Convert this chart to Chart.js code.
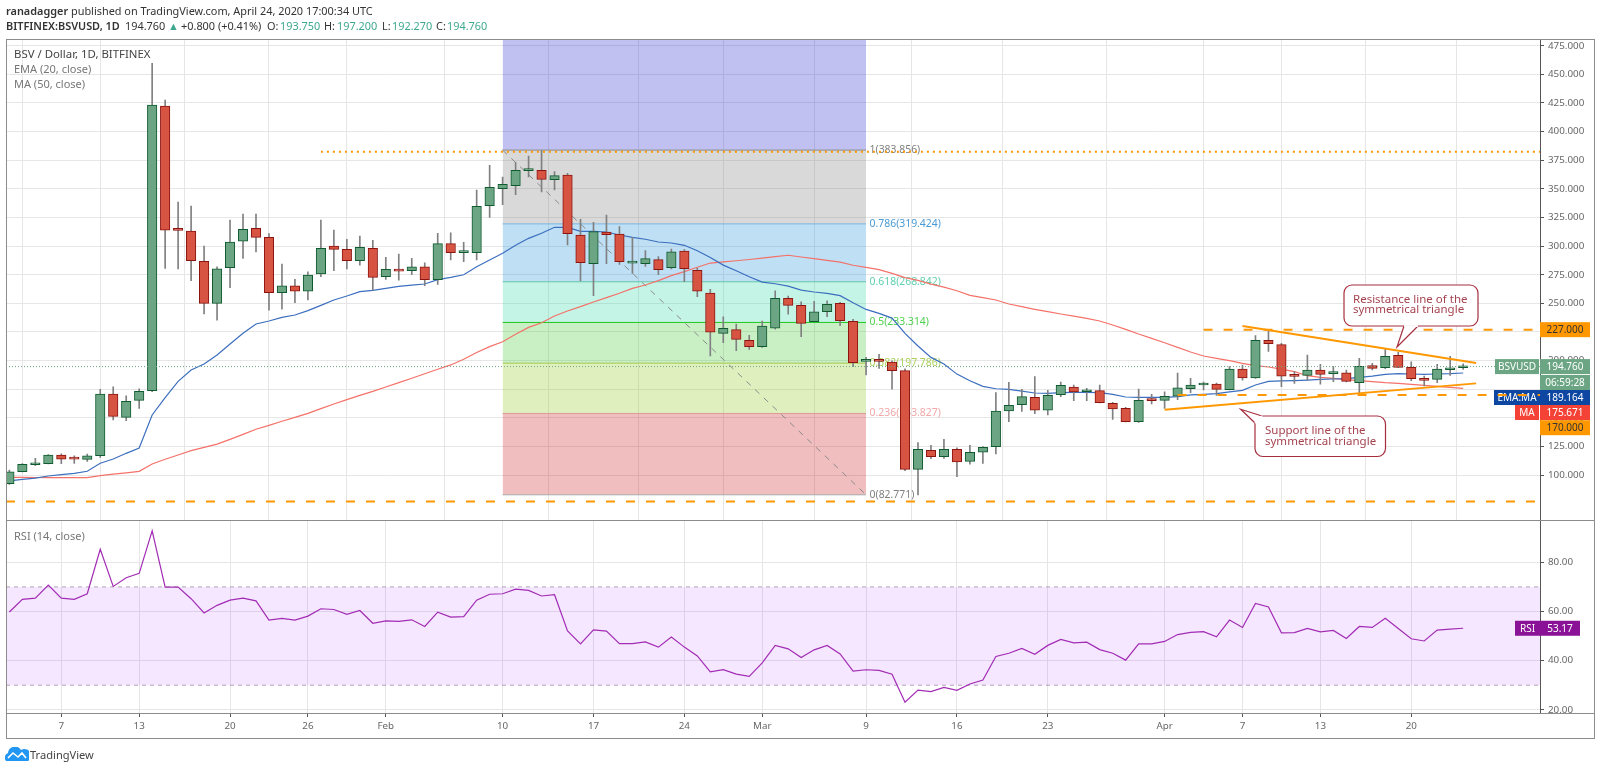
<!DOCTYPE html>
<html>
<head>
<meta charset="utf-8">
<title>BSV / Dollar</title>
<script src="https://cdn.jsdelivr.net/npm/chart.js@4"></script>
<style>
  body { margin: 0; background: #fff; font-family: "Noto Sans", sans-serif; overflow: hidden; }
  canvas { position: absolute; left: 0; top: 0; }
  .txt { position: absolute; white-space: nowrap; line-height: 16px; z-index: 5; color: #333; }
  .hd { font-size: 10.9px; top: 18px; }
  .pane { font-size: 11px; color: #777; }
  .teal { color: #3ea88f; }
  .frame { position: absolute; left: 6px; top: 39px; width: 1587px; height: 698px; border: 1px solid #8c8c8c; z-index: 4; }
  .sep { position: absolute; left: 6px; width: 1588px; height: 1px; background: #8c8c8c; z-index: 4; }
</style>
</head>
<body>
<div class="txt hd" style="left:6px;top:3px"><b style="font-weight:600">ranadagger</b> published on TradingView.com, April 24, 2020 17:00:34 UTC</div>
<div class="txt hd" style="left:6px"><b style="font-weight:600">BITFINEX:BSVUSD, 1D</b></div>
<div class="txt hd" style="left:125px">194.760</div>
<div class="txt hd teal" style="left:168px">▲</div>
<div class="txt hd" style="left:181px">+0.800 (+0.41%)</div>
<div class="txt hd" style="left:267px">O:</div>
<div class="txt hd teal" style="left:280px">193.750</div>
<div class="txt hd" style="left:324px">H:</div>
<div class="txt hd teal" style="left:337px">197.200</div>
<div class="txt hd" style="left:382px">L:</div>
<div class="txt hd teal" style="left:392px">192.270</div>
<div class="txt hd" style="left:436px">C:</div>
<div class="txt hd teal" style="left:447px">194.760</div>
<div class="txt pane" style="left:14px;top:46px;font-size:11.4px;color:#444">BSV / Dollar, 1D, BITFINEX</div>
<div class="txt pane" style="left:14px;top:61px">EMA (20, close)</div>
<div class="txt pane" style="left:14px;top:76px">MA (50, close)</div>
<div class="txt pane" style="left:14px;top:528px">RSI (14, close)</div>
<div class="frame"></div>
<div class="sep" style="top:520px"></div>
<div class="sep" style="top:713px"></div>
<div style="position:absolute;left:1541px;top:714px;width:52px;height:23px;background:#fff;z-index:3"></div>
<svg style="position:absolute;left:5px;top:747px" width="24" height="14" viewBox="0 0 24 14">
  <path d="M1 14a5 5 0 0 1 2-8 7 7 0 0 1 13-3 6 6 0 0 1 7 11z" fill="#2196f3"/>
  <path d="M3 11l5-5 5 4 4-4 4 5" fill="none" stroke="#fff" stroke-width="1.6"/>
</svg>
<div class="txt" style="left:30px;top:747px;font-size:11.1px;color:#444">TradingView</div>
<canvas id="priceChart" width="1600" height="763"></canvas>
<canvas id="rsiChart" width="1600" height="763"></canvas>
<script>
const opens = [92.4,102.9,109,109.9,117.5,114.1,113.7,116.9,170.8,150.4,165.3,173.7,422.3,315.5,313.1,286.7,250,281.1,304.4,315.5,307.6,259.3,265.4,260.7,275.6,300,297.2,287.2,298,273.2,279.2,278.6,281.8,270.7,302.1,294.3,294.3,335.3,350.2,352.8,365.9,366.2,358,362.1,309.7,284.7,312.3,310.6,285.2,284.7,288.2,281.2,295.7,278.8,259,223.8,227,217.6,212.1,228.4,254.3,248.2,234,242.7,250,234.2,199.3,200.5,198.7,191.2,105,121.6,116.1,122.5,112,120.1,124.8,156,161.5,167.9,156.8,170.2,176.9,172.8,173.7,162.7,158.3,146.6,165.3,165.3,169,175.5,178.7,179.5,174.6,192.6,184.8,217.7,213.9,186.6,187.1,191.8,188.6,189.4,180.7,195.6,193.8,204.6,194.1,184.2,183.6,192,193.75];
const highs = [104.4,110,114.6,118,118.6,116.9,118.3,174.9,177.1,169.3,175.4,459.6,427.6,338.5,335,300,282,322.8,328,328,311,284.3,271,277.6,322.8,314,306,308.8,305,290.2,293,289.3,285.3,311.2,311.7,303.3,349,370.5,360.4,373.2,378.7,383.4,365,363.6,323.4,320.8,327.2,317,307.7,296,290.8,297.5,297,280.6,262.2,238.3,231.9,222,234.5,261,256.4,251.4,251.7,252.3,250.8,236,202.8,205.4,199.9,192.9,128.3,126,131.2,123.9,126,124.8,172,181,174.9,186,174,181.3,178.7,175.8,178.7,163.5,159.2,175.2,170.5,172.8,189.1,184.5,181.3,180.4,194.7,196.1,221.8,227.3,215,190.3,204.9,196.7,194.7,191.8,202,197.6,210.1,207.2,199,186.5,196.7,203.7,197.2];
const lows = [91.9,102.7,108.2,109.7,109.9,110.2,112,115.5,148.1,147.5,158.3,172.8,280.6,280,269.7,240.7,235.4,263.6,289.3,295,244.1,245,250.5,252.9,273.2,278.5,280,283.4,261.6,271,270.3,275,265.5,266.6,287.9,286.4,287.9,325.1,336.2,344.9,360.4,347.3,349,301,269.5,256.7,284.7,284.1,276.2,282.3,275,280,269,255.9,204,215.6,208.6,209.8,211.5,227.5,240.6,220.8,234,238.3,230.5,194.6,187.4,193.2,175.1,103.8,82.6,114.3,114.6,98.6,109.6,110.2,118.4,146.6,155.7,153.6,152.5,168.5,165,165,163,148.7,146.4,146,162.1,158.3,165.9,172,174.3,169.6,174.3,183,184.5,208.1,177.2,180.1,183,179.5,181.6,181.3,172,191.8,192.9,193.8,182.5,177.8,180.7,187.1,192.27];
const closes = [102.9,109.4,109.9,117.5,113.8,113.9,116.9,170.8,151.3,164.4,173.1,423.2,314,313.8,287.2,250,280.2,303.5,314.6,307.6,259.3,265.4,260.7,274.7,298,297.2,287.2,298.9,272.7,279.7,278.2,281.8,270.7,302.1,294.3,296,334.7,351.3,354,366.2,367.3,358.3,361.5,310.9,285.5,312.6,310,286.4,286.7,289,279.4,295.1,280.3,260.7,224.9,228.1,218.5,212.1,230.2,254.3,248.2,232.5,242.7,249.1,234.8,198.1,200.5,199.3,191.2,105,122.5,116.1,122.5,111.4,119.8,124.2,155.9,160.9,168.5,156.8,169.7,178.4,172.6,174,163.2,157.7,146.6,165.3,165,168.8,176.3,178.7,179.5,174.9,192.6,184.8,217.7,214.8,186.5,186.2,191.8,188,189.7,181.9,195,193.2,203.7,194.1,184.2,182.7,192.6,193.5,194.76];
const ema20 = [95,96.3,97.4,99.2,100.4,101.5,103.3,110.3,114,119,123.6,152.5,167.6,181.9,191.8,197,204.9,214.5,223.8,232,234.6,237.8,239.8,243.6,248.2,252.9,256.4,260.2,261.3,263.1,264.8,266,266.9,270.7,272.7,275,282,287.9,293.7,300.7,306.8,311.2,316.4,316.4,312.9,312.9,312.3,309.7,307.7,306,303.6,302.7,300.7,296,290,283.4,278.5,273.2,268.6,267.1,265.1,261.6,259.9,258.7,256.7,250.5,244.7,241.2,237.1,223.8,212.7,202.8,197,188.2,182.4,177.5,175.4,174.9,173.4,171.7,171.4,172,172.3,172.3,172,170.5,168.2,167.9,167.9,167.9,168.5,170,170.5,171.1,172.6,174,178.7,181.9,182.2,182.5,183,183.6,183.9,184.2,185.4,186.5,188,188.6,188.3,188,188.3,188.6,189.16];
const ma50 = [98,98,97.9,97.8,97.7,97.7,97.7,99.5,100.9,102,103.3,109.7,113.8,117.5,121.3,124.2,127.1,131.2,135.6,140,143.4,147,150.4,153.9,158,162.1,165.9,169.6,173.1,176.9,180.7,184.6,188.5,192.4,196.2,201.1,207,212.2,216.5,223,229,233.1,239,243.3,247.1,251.2,255,258.8,263.1,266,269.8,274.2,277.7,281.5,285.2,286.3,287.2,288.3,289.5,290.8,292,290.5,289,287.5,286,283.3,281.5,279.5,276.2,272.5,270,266.8,264.2,261,257,255,252.9,249.4,247.1,244.8,242.7,240.7,238.9,236.9,234.6,231.1,227.3,223.2,219.4,215.6,211.6,207.5,204,202,199.9,197.6,195.6,194.4,192.6,190.3,186.8,185.4,184.5,183.3,182.5,181.6,180.7,180.1,179.2,178.4,177.5,176.6,175.67];
const rsi14 = [59.8,64.9,65.4,70.7,65.4,64.9,67.2,85.3,70.2,73.7,75.5,92.8,69.9,69.9,65.2,59.4,62.5,64.6,65.4,64.3,56.5,57.2,56.5,58.1,61.1,60.8,58.8,60.4,55.2,56.2,56,56.6,53.9,59.7,57.7,57.9,64.6,67,67.2,69.1,68.6,66.3,66.8,52.1,46.8,52.5,52,46.9,46.9,47.6,45.5,49.6,45.5,41.9,35.4,36.3,34.5,33.6,39.1,46.2,44.8,41.3,44.4,46.2,42.7,35.7,36.3,36,34.5,23.1,28,27.4,29.1,27.9,30.5,32.1,41.7,43,45,42.6,46.2,48.6,47.2,47.5,44.5,43,40.2,46.8,46.8,47.8,50.6,51.5,51.8,49.7,56.5,53.5,63.3,61.8,51.3,51.4,53.1,51.7,52.3,49,53.9,53.5,57.2,53.1,48.9,48,52.4,52.8,53.17];

const xTickDays = [4,10,17,23,29,38,45,52,58,66,73,80,89,95,101,108];
const xTickLabels = ["7","13","20","26","Feb","10","17","24","Mar","9","16","23","Apr","7","13","20"];
const priceTicks = [100,125,150,175,200,225,250,275,300,325,350,375,400,425,450,475];
const rsiTicks = [20,40,60,80];

const fibRatios = ["1","0.786","0.618","0.5","0.382","0.236","0"];
const fibLevels = [383.856,319.424,268.842,233.314,197.786,153.827,82.771];
const fibRange = [38,66];
const lastPrice = 194.76;
const hLevels = [382.47,227,170,77];
const hLevelStarts = [24,92,90,-0.26];
const resistanceDays = [95,113];
const resistancePrices = [230.2,197.9];
const supportDays = [89,113];
const supportPrices = [157.1,180.1];

const xMin = -0.26, xMax = 117.92;
const yMax = 480.9, yMin = 60.15;
const orange = "#ff9800";
const axisFont = { family: "Noto Sans", size: 9.8 };
const fibFills = ["rgba(50,50,210,.3)","rgba(128,128,128,.3)","rgba(40,150,220,.3)","rgba(60,220,170,.3)","rgba(76,204,60,.3)","rgba(149,204,40,.3)","rgba(204,40,40,.3)"];
const fibLines = ["#8a8a8a","#7ab6e0","#63c7a8","#1fc81f","#a5c94a","#dc9a9a","#aaaaaa"];
const fibInks = ["#808080","#4a9bd4","#5fcfae","#4fd04f","#a9d15a","#f0a8a8","#808080"];

const xs = opens.map((_, i) => i);
const isUp = i => closes[i] >= opens[i];

function line(pts, style) {
  return Object.assign({ type: "line", data: pts, borderWidth: 1, pointRadius: 0, tension: 0, fill: false }, style);
}
function xScale(showLabels) {
  return {
    type: "linear", min: xMin, max: xMax, offset: false,
    afterBuildTicks: s => { s.ticks = xTickDays.map(v => ({ value: v })); },
    afterFit: s => { s.height = showLabels ? 24 : 0; },
    grid: { color: "#e6e6e6", drawTicks: showLabels, tickLength: 4, tickColor: "#555" },
    border: { display: false },
    ticks: {
      display: showLabels, autoSkip: false, maxRotation: 0, padding: 3, color: "#666",
      font: axisFont,
      callback: v => xTickLabels[xTickDays.indexOf(v)]
    }
  };
}
function yScale(min, max, ticks, digits) {
  return {
    position: "right", min: min, max: max,
    afterBuildTicks: s => { s.ticks = ticks.map(v => ({ value: v })); },
    afterFit: s => { s.width = 54; },
    grid: { color: "#e6e6e6", tickLength: 4, tickColor: "#555" },
    border: { color: "#555" },
    ticks: { padding: 4, color: "#666", font: axisFont, callback: v => v.toFixed(digits) }
  };
}

function tag(ctx, x, w, cy, h, color, ink, text) {
  ctx.fillStyle = color;
  ctx.fillRect(x, cy - h / 2, w, h);
  ctx.fillStyle = ink;
  ctx.font = '10px "Noto Sans"';
  ctx.textAlign = "center";
  ctx.textBaseline = "middle";
  ctx.fillText(text, x + w / 2, cy + 0.5);
}

function callout(ctx, box, tip, base, lines, textX, textY) {
  ctx.beginPath();
  ctx.roundRect(box[0], box[1], box[2], box[3], 8);
  ctx.fillStyle = "#fff";
  ctx.fill();
  ctx.strokeStyle = "#a62f3e";
  ctx.lineWidth = 1.2;
  ctx.stroke();
  ctx.beginPath();
  ctx.moveTo(base[0], base[1]);
  ctx.lineTo(tip[0], tip[1]);
  ctx.lineTo(base[2], base[3]);
  ctx.fillStyle = "#fff";
  ctx.fill();
  ctx.stroke();
  // hide the box edge under the pointer
  ctx.beginPath();
  ctx.moveTo(base[0], base[1]);
  ctx.lineTo(base[2], base[3]);
  ctx.strokeStyle = "#fff";
  ctx.lineWidth = 1.8;
  ctx.stroke();
  ctx.fillStyle = "#a5434f";
  ctx.font = '11.5px "Noto Sans"';
  ctx.textAlign = "left";
  ctx.textBaseline = "middle";
  lines.forEach((t, k) => ctx.fillText(t, textX, textY + k * 10.7));
}

const priceOverlay = {
  id: "priceOverlay",
  beforeDatasetsDraw(chart) {
    const ctx = chart.ctx, y = chart.scales.y, x = chart.scales.x;
    ctx.save();
    ctx.font = '10.4px "Noto Sans"';
    ctx.textAlign = "left";
    ctx.textBaseline = "middle";
    fibLevels.forEach((lvl, k) => {
      ctx.fillStyle = fibInks[k];
      ctx.fillText(fibRatios[k] + "(" + lvl.toFixed(3) + ")", x.getPixelForValue(fibRange[1]) + 3.5, y.getPixelForValue(lvl));
    });
    tag(ctx, 1494, 46, 397.5, 15, "#0d47a1", "#fff", "EMA:MA");
    ctx.restore();
  },
  afterDatasetsDraw(chart) {
    const ctx = chart.ctx, y = chart.scales.y;
    ctx.save();
    tag(ctx, 1540, 50, y.getPixelForValue(227), 15, orange, "#333", "227.000");
    tag(ctx, 1495, 44, y.getPixelForValue(lastPrice), 15, "#6ba583", "#fff", "BSVUSD");
    tag(ctx, 1540, 50, y.getPixelForValue(lastPrice), 15, "#6ba583", "#fff", "194.760");
    tag(ctx, 1540, 50, 382.5, 15, "#6ba583", "#fff", "06:59:28");
    tag(ctx, 1540, 50, 397.5, 15, "#0d47a1", "#fff", "189.164");
    tag(ctx, 1515, 24, 412.5, 15, "#f44336", "#fff", "MA");
    tag(ctx, 1540, 50, 412.5, 15, "#f44336", "#fff", "175.671");
    tag(ctx, 1540, 50, 427.7, 15, orange, "#333", "170.000");
    callout(ctx, [1344, 285, 134, 41], [1397, 347], [1404, 326, 1418, 326],
      ["Resistance line of the", "symmetrical triangle"], 1353, 299.5);
    callout(ctx, [1255, 416, 130.5, 40.5], [1240.7, 409.3], [1255, 423, 1262, 416],
      ["Support line of the", "symmetrical triangle"], 1265, 431);
    ctx.restore();
  }
};

const rsiOverlay = {
  id: "rsiOverlay",
  afterDatasetsDraw(chart) {
    const ctx = chart.ctx, y = chart.scales.y;
    ctx.save();
    tag(ctx, 1515, 25, y.getPixelForValue(53.17), 15, "#8a1297", "#fff", "RSI");
    tag(ctx, 1540, 40, y.getPixelForValue(53.17), 15, "#8a1297", "#fff", "53.17");
    ctx.restore();
  }
};

const fibDatasets = fibLevels.map((lvl, k) => line(
  fibRange.map(d => ({ x: d, y: lvl })),
  { borderColor: fibLines[k], backgroundColor: fibFills[k], fill: { target: { value: k ? fibLevels[k - 1] : yMax } }, order: 10 }
));

new Chart(document.getElementById("priceChart"), {
  type: "bar",
  data: {
    datasets: [
      ...fibDatasets,
      line([{ x: fibRange[0], y: fibLevels[0] }, { x: fibRange[1], y: fibLevels[6] }], { borderColor: "#8a8a8a", borderDash: [6, 6], order: 9 }),
      line(xs.map(i => ({ x: i, y: ma50[i] })), { borderColor: "#f4726a", borderWidth: 1.2, order: 7 }),
      line(xs.map(i => ({ x: i, y: ema20[i] })), { borderColor: "#3c6fbf", borderWidth: 1.2, order: 6 }),
      {
        data: xs.map(i => ({ x: i, y: [lows[i], highs[i]] })),
        backgroundColor: "#808083", barThickness: 1, grouped: false, order: 5
      },
      {
        data: xs.map(i => ({ x: i, y: [opens[i], closes[i]] })),
        backgroundColor: ctx => isUp(ctx.dataIndex) ? "#6ba583" : "#d75442",
        borderColor: ctx => isUp(ctx.dataIndex) ? "#0f5a2e" : "#8b1410",
        borderWidth: 1, borderSkipped: false, barThickness: 9.5, minBarLength: 2, grouped: false, order: 4
      },
      line([{ x: xMin, y: lastPrice }, { x: xMax, y: lastPrice }], { borderColor: "#6ba583", borderDash: [1, 2], order: 3 }),
      ...hLevels.map((lvl, k) => line(
        [{ x: hLevelStarts[k], y: lvl }, { x: xMax, y: lvl }],
        { borderColor: orange, borderWidth: 2, borderDash: k ? [9, 11] : [2, 4], order: 2 }
      )),
      line(resistanceDays.map((d, k) => ({ x: d, y: resistancePrices[k] })), { borderColor: orange, borderWidth: 2, order: 1 }),
      line(supportDays.map((d, k) => ({ x: d, y: supportPrices[k] })), { borderColor: orange, borderWidth: 2, order: 1 })
    ]
  },
  options: {
    responsive: false, animation: false,
    layout: { padding: { left: 6, top: 39, right: 6, bottom: 242.3 } },
    plugins: { legend: { display: false }, tooltip: { enabled: false } },
    scales: { x: xScale(false), y: yScale(yMin, yMax, priceTicks, 3) }
  },
  plugins: [priceOverlay]
});

new Chart(document.getElementById("rsiChart"), {
  type: "line",
  data: {
    datasets: [
      line([{ x: xMin, y: 70 }, { x: xMax, y: 70 }], {
        borderColor: "#b0a8b4", borderDash: [4, 4], backgroundColor: "rgba(153,21,255,.1)", fill: { target: { value: 30 } }, order: 3
      }),
      line([{ x: xMin, y: 30 }, { x: xMax, y: 30 }], { borderColor: "#b0a8b4", borderDash: [4, 4], order: 3 }),
      line(xs.map(i => ({ x: i, y: rsi14[i] })), { borderColor: "#a22cb4", borderWidth: 1.2, order: 1 })
    ]
  },
  options: {
    responsive: false, animation: false,
    layout: { padding: { left: 6, top: 521, right: 6, bottom: 26 } },
    plugins: { legend: { display: false }, tooltip: { enabled: false } },
    scales: { x: xScale(true), y: yScale(18.7, 96.8, rsiTicks, 2) }
  },
  plugins: [rsiOverlay]
});
</script>
</body>
</html>
